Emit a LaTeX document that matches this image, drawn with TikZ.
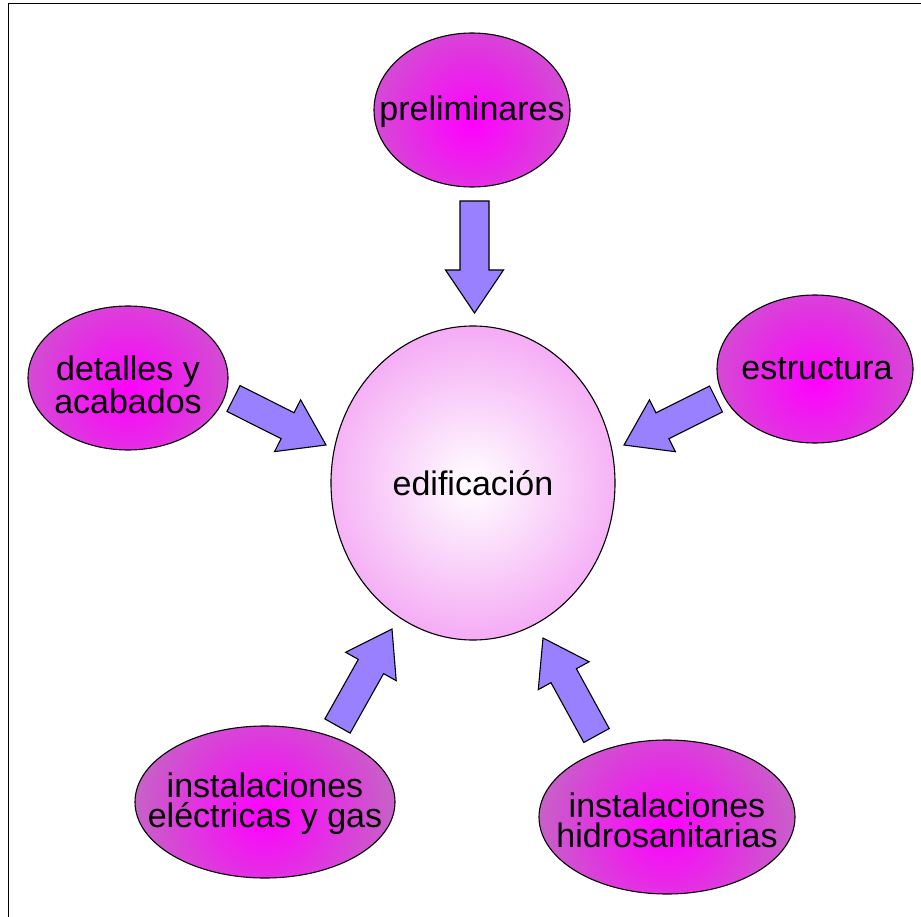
\documentclass[tikz,border=0pt]{standalone}
\usepackage{fontspec}
\setmainfont{Liberation Sans}
\usetikzlibrary{shapes.geometric,calc}

\definecolor{arrowblue}{RGB}{153,128,255}
\definecolor{ballmagenta}{RGB}{255,0,255}
\definecolor{ballgray}{RGB}{165,155,165}
\definecolor{hubpink}{RGB}{236,100,236}

\tikzset{
  topic/.style={ellipse, draw=black, line width=1.1pt, inner sep=0pt,
    path picture={\shade[inner color=ballmagenta, outer color=ballgray]
      ($(path picture bounding box.center)+(0,12)$) circle (205pt);}},
  hub/.style={ellipse, draw=black, line width=1.1pt, inner sep=0pt,
    path picture={\shade[inner color=white, outer color=hubpink]
      (path picture bounding box.center) circle (290pt);}},
  caption/.style={align=center, inner sep=0pt, font=\fontsize{34}{30}\selectfont},
  blockarrow/.style={fill=arrowblue, draw=black, line width=1.1pt, line join=miter},
  frame/.style={draw=black, line width=1.3pt}
}

% block arrow from back centre #1 to tip #2
\newcommand\blockarrow[2]{%
  \coordinate (#1n) at ($(#2)!43pt!(#1)$);
  \filldraw[blockarrow]
    ($(#1)!14.5pt!90:(#2)$) -- ($(#1n)!14.5pt!90:(#2)$) --
    ($(#1n)!29pt!90:(#2)$) -- (#2) --
    ($(#1n)!29pt!-90:(#2)$) -- ($(#1n)!14.5pt!-90:(#2)$) --
    ($(#1)!14.5pt!-90:(#2)$) -- cycle;}

\begin{document}
\begin{tikzpicture}[x=1pt, y=-1pt]
  \useasboundingbox (0,0) rectangle (921,917);
  \fill[white] (0,0) rectangle (921,917);

  % frame edges
  \coordinate (fbl) at (8.5,917);
  \coordinate (ftl) at (8.5,3.5);
  \coordinate (ftr) at (921,3.5);
  \draw[frame] (fbl) -- (ftl) -- (ftr);

  % central topic
  \node[hub, minimum width=284pt, minimum height=314pt] (edif) at (473,483) {};
  \node[caption] at (edif) {edificaci\'on};

  % surrounding topics
  \node[topic, minimum width=196pt, minimum height=154pt] (prel) at (472,110) {};
  \node[topic, minimum width=200pt, minimum height=144pt] (deta) at (128,378) {};
  \node[topic, minimum width=196pt, minimum height=148pt] (estr) at (815,369) {};
  \node[topic, minimum width=260pt, minimum height=152pt] (elec) at (265,802) {};
  \node[topic, minimum width=256pt, minimum height=154pt] (hidr) at (667,817) {};

  \node[caption] at ([yshift=-2]prel) {preliminares};
  \node[caption, font=\fontsize{34}{33}\selectfont] at ([yshift=-7]deta) {detalles y\\acabados};
  \node[caption] at ([xshift=2]estr) {estructura};
  \node[caption] at ([yshift=-2]elec) {instalaciones\\el\'ectricas y gas};
  \node[caption] at ([yshift=-3]hidr) {instalaciones\\hidrosanitarias};

  % arrows pointing to the centre
  \coordinate (aps) at (474.5,201);   \coordinate (apt) at (474.5,313);
  \coordinate (ads) at (233.5,398.5); \coordinate (adt) at (326,445);
  \coordinate (aes) at (716,399);     \coordinate (aet) at (624,445);
  \coordinate (als) at (337.5,726);   \coordinate (alt) at (392,629);
  \coordinate (ahs) at (596.5,735.5); \coordinate (aht) at (543,638);
  \blockarrow{aps}{apt}
  \blockarrow{ads}{adt}
  \blockarrow{aes}{aet}
  \blockarrow{als}{alt}
  \blockarrow{ahs}{aht}
\end{tikzpicture}
\end{document}
